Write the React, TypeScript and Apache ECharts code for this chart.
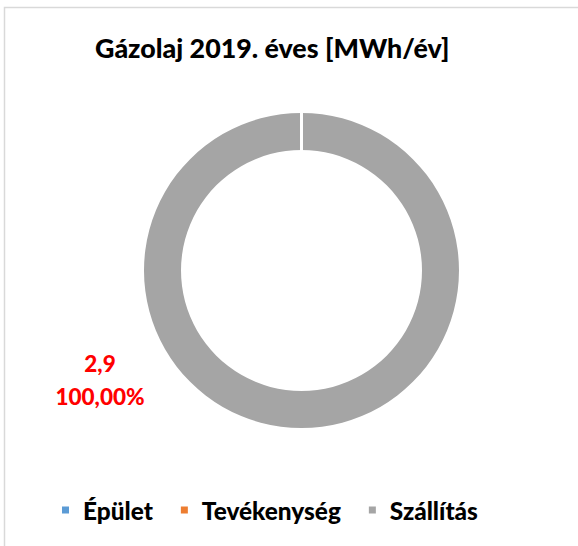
import React, { useEffect, useRef } from "react";
import * as echarts from "echarts";

const titleText = "Gázolaj 2019. éves [MWh/év]";
const categories = ["Épület", "Tevékenység", "Szállítás"];
const values = [0, 0, 2.9];
const colors = ["#5B9BD5", "#ED7D31", "#A5A5A5"];

const FONT = "Lato";
const WEIGHT = 900;

export default function App() {
  const ref = useRef<HTMLDivElement>(null);
  useEffect(() => {
    document.body.style.margin = "0";
    const chart = echarts.init(ref.current!, null, { renderer: "svg" });
    const total = values.reduce((a, b) => a + b, 0);
    const items = categories.map((name, i) => ({
      name,
      value: values[i],
      itemStyle: { color: colors[i], borderWidth: 0 },
      label:
        values[i] === 0
          ? { show: false }
          : {
              show: true,
              position: "outside",
              formatter: () =>
                String(values[i]).replace(".", ",") +
                "\n" +
                ((values[i] / total) * 100).toFixed(2).replace(".", ",") +
                "%",
              color: "#FF0000",
              fontFamily: FONT,
              fontWeight: WEIGHT,
              fontSize: 22.5,
              lineHeight: 33,
            },
    }));
    // overlay: same data, only the white separators of the zero-value slices are visible
    const separators = categories.map((name, i) => ({
      name,
      value: values[i],
      itemStyle:
        values[i] === 0
          ? { color: "transparent", borderColor: "#ffffff", borderWidth: 3 }
          : { color: "transparent", borderWidth: 0 },
      label: { show: false },
    }));
    const orderedSep = [
      ...separators.filter((d) => d.value !== 0),
      ...separators.filter((d) => d.value === 0),
    ];
    chart.setOption({
      animation: false,
      backgroundColor: "#ffffff",
      title: {
        text: titleText,
        left: 95,
        top: 34,
        padding: 0,
        textStyle: {
          fontFamily: FONT,
          fontWeight: WEIGHT,
          fontSize: 26.8,
          color: "#000000",
        },
      },
      legend: {
        data: categories,
        left: 62,
        top: 498,
        padding: 0,
        icon: "rect",
        itemWidth: 7,
        itemHeight: 7,
        itemGap: 28,
        selectedMode: false,
        itemStyle: { borderWidth: 0 },
        textStyle: {
          fontFamily: FONT,
          fontWeight: WEIGHT,
          fontSize: 24.4,
          color: "#000000",
          padding: [0, 0, 0, 9],
        },
      },
      graphic: [
        {
          type: "rect",
          shape: { x: 4.5, y: 7.5, width: 700, height: 700 },
          style: { fill: "none", stroke: "#d9d9d9", lineWidth: 1.5 },
          silent: true,
        },
      ],
      series: [
        {
          type: "pie",
          center: [301.5, 270.5],
          radius: [120.5, 157.5],
          startAngle: 90,
          clockwise: true,
          avoidLabelOverlap: false,
          itemStyle: { borderWidth: 0 },
          emphasis: { disabled: true },
          labelLine: { show: false },
          data: items,
          labelLayout: () => ({
            x: 100,
            y: 380,
            align: "center",
            verticalAlign: "middle",
          }),
        },
        {
          type: "pie",
          z: 3,
          silent: true,
          legendHoverLink: false,
          center: [301.5, 270.5],
          radius: [120.5, 157.5],
          startAngle: 90,
          clockwise: true,
          emphasis: { disabled: true },
          label: { show: false },
          labelLine: { show: false },
          data: orderedSep,
        },
      ],
    });
    return () => chart.dispose();
  }, []);
  return <div ref={ref} style={{ width: 578, height: 546 }} />;
}
